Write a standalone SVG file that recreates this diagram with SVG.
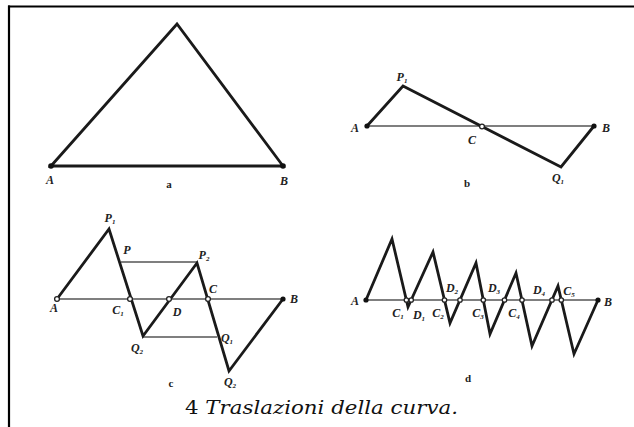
<svg xmlns="http://www.w3.org/2000/svg" width="634" height="427" viewBox="0 0 634 427">
<style>
.thick{fill:none;stroke:#1a1a1a;stroke-width:2.8;stroke-linejoin:miter;stroke-linecap:round}
.thin{fill:none;stroke:#555;stroke-width:1.6}
.dot{fill:#111}
.open{fill:#fff;stroke:#222;stroke-width:1.3}
.lab{font-family:"Liberation Serif",serif;font-style:italic;font-weight:bold;font-size:12px;fill:#222;text-anchor:middle}
.sub{font-size:7px}
.pl{font-family:"Liberation Serif",serif;font-weight:bold;font-size:11px;fill:#222;text-anchor:middle}
.cap{font-family:"DejaVu Serif","Liberation Serif",serif;font-size:18px;fill:#111}
</style>
<rect width="634" height="427" fill="#fff"/>
<g id="frame">
<line x1="8" y1="6.5" x2="634" y2="6.5" stroke="#000" stroke-width="2.2"/>
<line x1="9" y1="5.5" x2="9" y2="427" stroke="#000" stroke-width="2.2"/>
</g>
<g id="panel-a">
<polygon class="thick" points="51,166 177,24 283,166"/>
<circle class="dot" cx="51" cy="166" r="2.8"/>
<circle class="dot" cx="283" cy="166" r="2.8"/>
<text class="lab" x="50" y="184">A</text>
<text class="lab" x="284" y="185">B</text>
<text class="pl" x="169" y="188">a</text>
</g>
<g id="panel-b">
<line class="thin" x1="367" y1="126" x2="594" y2="126"/>
<polyline class="thick" points="367,126 403,86 561,167 594,126"/>
<circle class="dot" cx="367" cy="126" r="2.6"/>
<circle class="dot" cx="594" cy="126" r="2.6"/>
<circle class="open" cx="482" cy="126.5" r="2.4"/>
<text class="lab" x="402" y="81">P<tspan class="sub" dy="2">1</tspan></text>
<text class="lab" x="355" y="132">A</text>
<text class="lab" x="606" y="132">B</text>
<text class="lab" x="472" y="144">C</text>
<text class="lab" x="558" y="182">Q<tspan class="sub" dy="2">1</tspan></text>
<text class="pl" x="467" y="187">b</text>
</g>
<g id="panel-c">
<line class="thin" x1="57" y1="299" x2="283" y2="299"/>
<line class="thin" x1="121" y1="262" x2="197" y2="262"/>
<line class="thin" x1="143" y1="337" x2="217" y2="337"/>
<polyline class="thick" points="57,299 109,229 143,336 197,263 229,371 283,299"/>
<circle class="open" cx="57" cy="299" r="2.4"/>
<circle class="open" cx="130" cy="299" r="2.4"/>
<circle class="open" cx="169" cy="299" r="2.4"/>
<circle class="open" cx="208" cy="299" r="2.4"/>
<circle class="dot" cx="283" cy="299" r="2.6"/>
<text class="lab" x="110" y="222">P<tspan class="sub" dy="2">1</tspan></text>
<text class="lab" x="127" y="254">P</text>
<text class="lab" x="204" y="259">P<tspan class="sub" dy="2">2</tspan></text>
<text class="lab" x="213" y="293">C</text>
<text class="lab" x="54" y="312">A</text>
<text class="lab" x="118" y="314">C<tspan class="sub" dy="2">1</tspan></text>
<text class="lab" x="177" y="316">D</text>
<text class="lab" x="294" y="303">B</text>
<text class="lab" x="137" y="352">Q<tspan class="sub" dy="2">2</tspan></text>
<text class="lab" x="227" y="342">Q<tspan class="sub" dy="2">1</tspan></text>
<text class="lab" x="230" y="386">Q<tspan class="sub" dy="2">2</tspan></text>
<text class="pl" x="171" y="387">c</text>
</g>
<g id="panel-d">
<line class="thin" x1="366" y1="300" x2="598" y2="300"/>
<polyline class="thick" points="366,300 392,239 408,307 433,252 450,323 476,263 490,334 516,273 532,346 558,286 574,354 598,300"/>
<circle class="dot" cx="366" cy="300" r="2.6"/>
<circle class="dot" cx="598" cy="300" r="2.6"/>
<circle class="open" cx="406.4" cy="300" r="2.2"/>
<circle class="open" cx="411.2" cy="300" r="2.2"/>
<circle class="open" cx="444.5" cy="300" r="2.2"/>
<circle class="open" cx="460" cy="300" r="2.2"/>
<circle class="open" cx="483.3" cy="300" r="2.2"/>
<circle class="open" cx="504.5" cy="300" r="2.2"/>
<circle class="open" cx="522" cy="300" r="2.2"/>
<circle class="open" cx="552" cy="300" r="2.2"/>
<circle class="open" cx="561.3" cy="300" r="2.2"/>
<text class="lab" x="355" y="305">A</text>
<text class="lab" x="608" y="306">B</text>
<text class="lab" x="398" y="317">C<tspan class="sub" dy="2">1</tspan></text>
<text class="lab" x="419" y="319">D<tspan class="sub" dy="2">1</tspan></text>
<text class="lab" x="438" y="317">C<tspan class="sub" dy="2">2</tspan></text>
<text class="lab" x="452" y="292">D<tspan class="sub" dy="2">2</tspan></text>
<text class="lab" x="478" y="317">C<tspan class="sub" dy="2">3</tspan></text>
<text class="lab" x="494" y="292">D<tspan class="sub" dy="2">3</tspan></text>
<text class="lab" x="514" y="317">C<tspan class="sub" dy="2">4</tspan></text>
<text class="lab" x="539" y="294">D<tspan class="sub" dy="2">4</tspan></text>
<text class="lab" x="569" y="295">C<tspan class="sub" dy="2">5</tspan></text>
<text class="pl" x="468" y="382">d</text>
</g>
<g id="caption">
<text class="cap" x="185" y="414" textLength="273" lengthAdjust="spacingAndGlyphs">4 <tspan font-style="italic">Traslazioni della curva.</tspan></text>
</g>
</svg>
